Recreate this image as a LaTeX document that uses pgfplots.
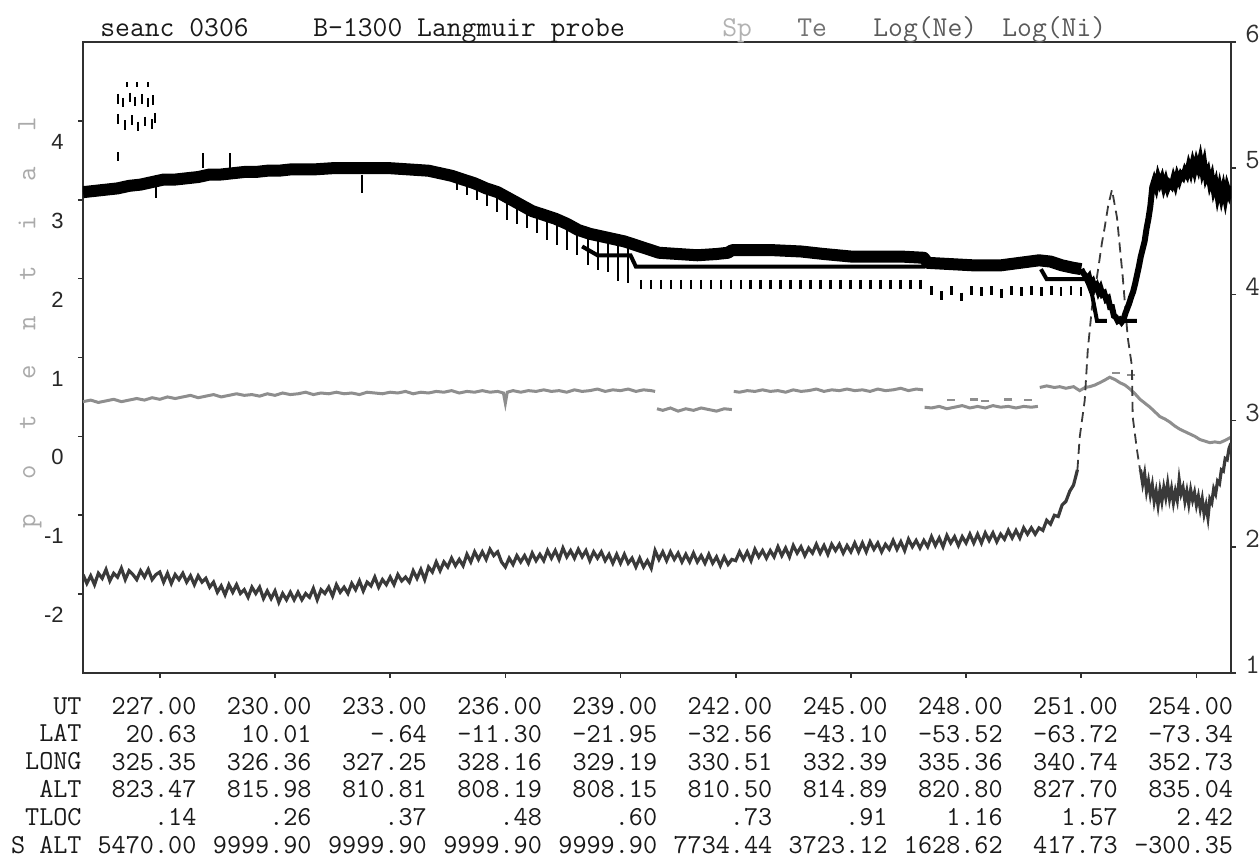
\documentclass[border=0pt]{standalone}
\usepackage{fontspec}
\setmainfont{Liberation Sans}
\newfontfamily\lsans{Liberation Sans}
\usepackage{pgfplots}
\pgfplotsset{compat=1.18}
\definecolor{spgray}{HTML}{8E8E8E}
\definecolor{tegray}{HTML}{3A3A3A}
\definecolor{axgray}{HTML}{303030}
\definecolor{labgray}{HTML}{AAAAAA}
\newcommand\gp{\hspace{17.6pt}}
\begin{document}
\begin{tikzpicture}
\useasboundingbox (-41.5pt,-94pt) rectangle (588.5pt,336.5pt);
% ---------------- left axis : potential (Sp) ----------------
\begin{axis}[
  scale only axis, width=574pt, height=315.5pt,
  xmin=225, xmax=254.9, ymin=-3, ymax=5,
  axis line style={-, axgray, line width=1pt},
  xtick={227,230,233,236,239,242,245,248,251,254},
  xticklabels={
    {227.00\\20.63\\325.35\\823.47\\.14\\5470.00},
    {230.00\\10.01\\326.36\\815.98\\.26\\9999.90},
    {233.00\\-.64\\327.25\\810.81\\.37\\9999.90},
    {236.00\\-11.30\\328.16\\808.19\\.48\\9999.90},
    {239.00\\-21.95\\329.19\\808.15\\.60\\9999.90},
    {242.00\\-32.56\\330.51\\810.50\\.73\\7734.44},
    {245.00\\-43.10\\332.39\\814.89\\.91\\3723.12},
    {248.00\\-53.52\\335.36\\820.80\\1.16\\1628.62},
    {251.00\\-63.72\\340.74\\827.70\\1.57\\417.73},
    {254.00\\-73.34\\352.73\\835.04\\2.42\\-300.35}},
  extra x ticks={225},
  extra x tick labels={{UT\\LAT\\LONG\\ALT\\TLOC\\S ALT}},
  extra x tick style={major tick length=0pt, xticklabel style={xshift=-19pt, yshift=-2.5pt}},
  xtick pos=left, ytick pos=left,
  tick align=outside, major tick length=2.5pt,
  tick style={axgray, line width=0.8pt},
  ytick={-2,-1,0,1,2,3,4}, yticklabels={-2,-1,0,1,2,3,4},
  yticklabel style={font=\lsans\fontsize{11}{13}\selectfont, text=black!85, anchor=east, inner sep=0pt, xshift=-7pt, yshift=-10.5pt},
  xticklabel style={font=\ttfamily\fontsize{13.7}{13.9}\selectfont, text=black!90, align=right, anchor=north east, inner sep=0pt, xshift=18.5pt, yshift=-9.5pt},
  unbounded coords=jump,
]
\addplot[spgray, line width=1.5pt] coordinates {
(225.0,0.44)(225.2,0.46)(225.4,0.43)(225.6,0.45)(225.8,0.47)(226.0,0.44)(226.2,0.46)(226.4,0.48)(226.6,0.46)(226.8,0.49)
(227.0,0.47)(227.2,0.50)(227.4,0.48)(227.6,0.50)(227.8,0.52)(228.0,0.49)(228.2,0.51)(228.4,0.53)(228.6,0.50)(228.8,0.52)
(229.0,0.54)(229.2,0.52)(229.4,0.53)(229.6,0.51)(229.8,0.54)(230.0,0.52)(230.2,0.55)(230.4,0.53)(230.6,0.54)(230.8,0.56)
(231.0,0.53)(231.2,0.55)(231.4,0.54)(231.6,0.56)(231.8,0.54)(232.0,0.55)(232.2,0.53)(232.4,0.56)(232.6,0.55)(232.8,0.54)
(233.0,0.56)(233.2,0.55)(233.4,0.57)(233.6,0.54)(233.8,0.56)(234.0,0.55)(234.2,0.57)(234.4,0.56)(234.6,0.58)(234.8,0.55)
(235.0,0.57)(235.2,0.56)(235.4,0.58)(235.6,0.56)(235.8,0.57)(235.95,0.55)(236.0,0.42)(236.05,0.56)(236.2,0.58)(236.4,0.56)
(236.6,0.58)(236.8,0.57)(237.0,0.59)(237.2,0.57)(237.4,0.58)(237.6,0.56)(237.8,0.59)(238.0,0.57)(238.2,0.58)(238.4,0.60)
(238.6,0.57)(238.8,0.59)(239.0,0.58)(239.2,0.60)(239.4,0.57)(239.6,0.59)(239.8,0.58)(239.9,0.57)(239.9,nan)
(239.95,0.35)(240.1,0.33)(240.3,0.36)(240.5,0.32)(240.7,0.35)(240.9,0.33)(241.1,0.36)(241.3,0.34)(241.5,0.32)(241.7,0.35)(241.9,0.34)(241.9,nan)
(241.95,0.57)(242.1,0.56)(242.3,0.58)(242.5,0.57)(242.7,0.59)(242.9,0.57)(243.1,0.58)(243.3,0.56)(243.5,0.59)(243.7,0.57)
(243.9,0.58)(244.1,0.60)(244.3,0.57)(244.5,0.59)(244.7,0.58)(244.9,0.60)(245.1,0.58)(245.3,0.59)(245.5,0.57)(245.7,0.60)
(245.9,0.58)(246.1,0.59)(246.3,0.61)(246.5,0.58)(246.7,0.60)(246.88,0.59)(246.88,nan)
(246.92,0.37)(247.1,0.36)(247.3,0.38)(247.5,0.35)(247.7,0.37)(247.9,0.39)(248.1,0.36)(248.3,0.38)(248.5,0.36)(248.7,0.39)
(248.9,0.37)(249.1,0.38)(249.3,0.36)(249.5,0.38)(249.7,0.37)(249.87,0.38)(249.87,nan)
(249.92,0.62)(250.1,0.64)(250.3,0.62)(250.44,0.63)(250.6,0.61)(250.8,0.63)(250.96,0.58)(251.1,0.62)(251.22,0.63)(251.35,0.65)
(251.48,0.68)(251.6,0.71)(251.74,0.75)(251.88,0.72)(252.01,0.68)(252.14,0.65)(252.27,0.60)(252.4,0.54)(252.53,0.47)(252.66,0.42)
(252.79,0.37)(252.92,0.31)(253.05,0.25)(253.18,0.22)(253.31,0.18)(253.44,0.13)(253.57,0.09)(253.7,0.06)(253.83,0.03)(253.96,0.00)
(254.09,-0.04)(254.22,-0.06)(254.35,-0.08)(254.48,-0.07)(254.61,-0.08)(254.75,-0.05)(254.9,-0.01)
};
\addplot[spgray, only marks, mark=-, mark size=2pt, line width=1.2pt] coordinates {
(247.6,0.46)(248.2,0.47)(248.5,0.45)(249.1,0.47)(249.6,0.46)(251.9,0.80)(252.3,0.78)
};
\end{axis}
% ---------------- right axis : Te, Log(Ne), Log(Ni) ----------------
\begin{axis}[
  scale only axis, width=574pt, height=315.5pt,
  xmin=225, xmax=254.9, ymin=1, ymax=6,
  axis x line=none, axis y line*=right,
  axis line style={-, axgray, line width=1pt},
  ytick={1,2,3,4,5,6}, yticklabels={1,2,3,4,5,6},
  tick align=outside, major tick length=2.5pt,
  tick style={axgray, line width=0.8pt},
  yticklabel style={font=\ttfamily\fontsize{14}{16}\selectfont, text=axgray, anchor=west, inner sep=0pt, xshift=4.5pt, yshift=4pt},
  unbounded coords=jump,
]
% Te (dark gray)
\addplot[tegray, line width=1.6pt] coordinates {
(225.0,1.78)(225.1,1.71)(225.2,1.77)(225.3,1.70)(225.4,1.79)(225.5,1.75)(225.6,1.82)(225.7,1.73)(225.8,1.79)(225.9,1.76)
(226.0,1.83)(226.1,1.74)(226.2,1.81)(226.3,1.78)(226.4,1.74)(226.5,1.81)(226.6,1.76)(226.7,1.82)(226.8,1.74)(226.9,1.78)
(227.0,1.80)(227.1,1.72)(227.2,1.79)(227.3,1.71)(227.4,1.78)(227.5,1.74)(227.6,1.79)(227.7,1.72)(227.8,1.77)(227.9,1.70)
(228.0,1.77)(228.1,1.72)(228.2,1.75)(228.3,1.68)(228.4,1.72)(228.5,1.64)(228.6,1.69)(228.7,1.62)(228.8,1.70)(228.9,1.64)
(229.0,1.70)(229.1,1.63)(229.2,1.66)(229.3,1.60)(229.4,1.68)(229.5,1.63)(229.6,1.68)(229.7,1.59)(229.8,1.65)(229.9,1.59)
(230.0,1.65)(230.1,1.56)(230.2,1.63)(230.3,1.58)(230.4,1.64)(230.5,1.58)(230.6,1.64)(230.7,1.58)(230.8,1.63)(230.9,1.60)
(231.0,1.67)(231.1,1.58)(231.2,1.66)(231.3,1.63)(231.4,1.68)(231.5,1.61)(231.6,1.70)(231.7,1.64)(231.8,1.68)(231.9,1.63)
(232.0,1.71)(232.1,1.66)(232.2,1.73)(232.3,1.65)(232.4,1.72)(232.5,1.69)(232.6,1.76)(232.7,1.68)(232.8,1.74)(232.9,1.70)
(233.0,1.76)(233.1,1.70)(233.2,1.78)(233.3,1.73)(233.4,1.76)(233.5,1.72)(233.6,1.81)(233.7,1.75)(233.8,1.82)(233.9,1.74)
(234.0,1.84)(234.1,1.80)(234.2,1.88)(234.3,1.81)(234.4,1.88)(234.5,1.84)(234.6,1.91)(234.7,1.85)(234.8,1.90)(234.9,1.85)
(235.0,1.94)(235.1,1.88)(235.2,1.96)(235.3,1.90)(235.4,1.96)(235.5,1.90)(235.6,1.98)(235.7,1.93)(235.8,1.96)(235.9,1.88)
(236.0,1.84)(236.1,1.91)(236.2,1.86)(236.3,1.93)(236.4,1.88)(236.5,1.93)(236.6,1.87)(236.7,1.95)(236.8,1.89)(236.9,1.94)
(237.0,1.89)(237.1,1.97)(237.2,1.91)(237.3,1.97)(237.4,1.90)(237.5,1.99)(237.6,1.92)(237.7,1.97)(237.8,1.91)(237.9,1.98)
(238.0,1.92)(238.1,1.97)(238.2,1.89)(238.3,1.96)(238.4,1.91)(238.5,1.96)(238.6,1.89)(238.7,1.94)(238.8,1.87)(238.9,1.94)
(239.0,1.87)(239.1,1.94)(239.2,1.87)(239.3,1.91)(239.4,1.84)(239.5,1.91)(239.6,1.84)(239.7,1.89)(239.8,1.83)(239.9,1.97)
(240.0,1.90)(240.1,1.96)(240.2,1.89)(240.3,1.96)(240.4,1.90)(240.5,1.95)(240.6,1.88)(240.7,1.94)(240.8,1.88)(240.9,1.95)
(241.0,1.88)(241.1,1.93)(241.2,1.87)(241.3,1.94)(241.4,1.87)(241.5,1.92)(241.6,1.85)(241.7,1.92)(241.8,1.86)(241.9,1.90)
(242.0,1.89)(242.1,1.96)(242.2,1.90)(242.3,1.96)(242.4,1.89)(242.5,1.98)(242.6,1.92)(242.7,1.97)(242.8,1.91)(242.9,1.97)
(243.0,1.92)(243.1,2.00)(243.2,1.93)(243.3,1.99)(243.4,1.92)(243.5,2.01)(243.6,1.95)(243.7,2.00)(243.8,1.93)(243.9,1.99)
(244.0,1.95)(244.1,2.02)(244.2,1.95)(244.3,2.01)(244.4,1.94)(244.5,2.02)(244.6,1.97)(244.7,2.02)(244.8,1.95)(244.9,2.01)
(245.0,1.96)(245.1,2.03)(245.2,1.96)(245.3,2.03)(245.4,1.96)(245.5,2.04)(245.6,1.98)(245.7,2.03)(245.8,1.96)(245.9,2.02)
(246.0,1.98)(246.1,2.05)(246.2,1.98)(246.3,2.04)(246.4,1.97)(246.5,2.06)(246.6,2.00)(246.7,2.05)(246.8,1.99)(246.9,2.05)
(247.0,2.00)(247.1,2.08)(247.2,2.01)(247.3,2.07)(247.4,2.00)(247.5,2.09)(247.6,2.03)(247.7,2.08)(247.8,2.01)(247.9,2.08)
(248.0,2.03)(248.1,2.10)(248.2,2.03)(248.3,2.10)(248.4,2.03)(248.5,2.11)(248.6,2.05)(248.7,2.11)(248.8,2.04)(248.9,2.10)
(249.0,2.06)(249.1,2.13)(249.2,2.07)(249.3,2.13)(249.4,2.07)(249.5,2.15)(249.6,2.10)(249.7,2.15)(249.8,2.10)(249.9,2.15)
(250.0,2.13)(250.1,2.21)(250.2,2.18)(250.3,2.25)(250.4,2.24)(250.5,2.33)(250.6,2.36)(250.7,2.44)(250.8,2.49)(250.9,2.61)
};
\addplot[tegray, line width=0.9pt, dash pattern=on 5pt off 3pt] coordinates {
(250.9,2.61)(250.96,2.87)(251.09,3.16)(251.17,3.56)(251.28,3.90)(251.41,4.14)(251.54,4.41)(251.61,4.53)(251.70,4.70)(251.80,4.83)
(251.93,4.61)(252.08,4.14)(252.21,3.66)(252.32,3.43)(252.34,3.03)(252.45,2.77)(252.53,2.61)
};
\addplot[tegray, line width=1.6pt] coordinates {
(252.53,2.61)(252.55,2.60)(252.60,2.50)(252.65,2.58)(252.70,2.44)(252.75,2.52)(252.80,2.41)(252.85,2.49)(252.90,2.36)(252.95,2.44)
(253.00,2.33)(253.05,2.45)(253.10,2.36)(253.15,2.47)(253.20,2.39)(253.25,2.50)(253.30,2.38)(253.35,2.46)(253.40,2.35)(253.45,2.44)
(253.50,2.37)(253.55,2.53)(253.60,2.42)(253.65,2.47)(253.70,2.36)(253.75,2.44)(253.80,2.34)(253.85,2.45)(253.90,2.37)(253.95,2.43)
(254.00,2.33)(254.05,2.40)(254.10,2.30)(254.15,2.38)(254.20,2.26)(254.25,2.33)(254.30,2.23)(254.35,2.38)(254.40,2.35)(254.45,2.46)
(254.50,2.42)(254.55,2.52)(254.60,2.50)(254.65,2.61)(254.70,2.60)(254.75,2.70)(254.80,2.69)(254.85,2.78)(254.90,2.82)
};
% Log(Ne) main band
\addplot[black, line width=6pt, line join=round] coordinates {
(225.0,4.81)(225.3,4.82)(225.6,4.83)(225.9,4.84)(226.2,4.86)(226.5,4.87)(226.8,4.89)(227.1,4.91)(227.4,4.91)(227.7,4.92)
(228.0,4.93)(228.3,4.95)(228.6,4.95)(228.9,4.96)(229.2,4.97)(229.5,4.97)(229.8,4.98)(230.1,4.98)(230.4,4.99)(230.7,4.99)
(231.0,4.99)(231.5,5.00)(232.0,5.00)(232.5,5.00)(233.0,5.00)(233.5,4.99)(234.0,4.98)(234.3,4.96)(234.6,4.94)(234.9,4.91)
(235.2,4.88)(235.5,4.84)(235.8,4.81)(236.1,4.76)(236.4,4.71)(236.7,4.66)(237.0,4.63)(237.3,4.60)(237.6,4.56)(237.9,4.51)
(238.2,4.48)(238.5,4.46)(238.8,4.44)(239.1,4.42)(239.4,4.39)(239.7,4.36)(240.0,4.33)(240.5,4.32)(241.0,4.31)(241.5,4.32)
(241.8,4.33)(241.9,4.35)(242.4,4.35)(243.0,4.35)(243.7,4.34)(244.3,4.32)(245.0,4.30)(245.6,4.30)(246.3,4.30)(246.9,4.29)
(247.0,4.25)(247.6,4.24)(248.2,4.23)(248.9,4.23)(249.4,4.25)(249.9,4.27)(250.2,4.26)(250.5,4.23)(250.8,4.21)(251.0,4.20)
};
% Log(Ne) right part
\addplot[black, line width=3pt] coordinates {
(251.00,4.20)(251.05,4.17)(251.10,4.15)(251.15,4.12)(251.20,4.14)(251.25,4.08)(251.30,4.10)(251.35,4.05)(251.40,4.07)(251.45,4.02)
(251.50,4.05)(251.55,4.00)(251.60,4.01)(251.65,3.96)(251.70,3.97)(251.75,3.90)(251.80,3.90)(251.85,3.83)(251.90,3.82)(251.95,3.79)
(252.00,3.80)(252.05,3.78)(252.10,3.80)(252.15,3.85)(252.20,3.89)(252.25,3.93)(252.30,3.98)(252.35,4.02)(252.40,4.08)(252.45,4.15)
(252.50,4.22)(252.55,4.30)(252.60,4.36)(252.65,4.42)(252.70,4.52)(252.75,4.60)(252.80,4.70)(252.85,4.85)(252.90,4.90)(252.95,4.85)
(253.00,4.93)(253.05,4.88)(253.10,4.92)(253.15,4.85)(253.20,4.90)(253.25,4.84)(253.30,4.88)(253.35,4.86)(253.40,4.92)(253.45,4.87)
(253.50,4.94)(253.55,4.90)(253.60,4.95)(253.65,4.93)(253.70,4.98)(253.75,4.95)(253.80,5.02)(253.85,4.97)(253.90,5.04)(253.95,4.98)
(254.00,5.05)(254.05,5.00)(254.10,5.07)(254.15,4.98)(254.20,5.04)(254.25,4.93)(254.30,4.97)(254.35,4.88)(254.40,4.93)(254.45,4.83)
(254.50,4.88)(254.55,4.78)(254.60,4.85)(254.65,4.77)(254.70,4.84)(254.75,4.76)(254.80,4.85)(254.85,4.80)(254.90,4.86)
};
% Log(Ni) line
\addplot[black, line width=2pt] coordinates {
(238.0,4.38)(238.4,4.31)(239.26,4.31)(239.4,4.22)(246.93,4.22)(246.93,nan)
(249.95,4.20)(250.1,4.12)(251.13,4.12)(251.28,4.00)(251.41,3.79)(251.67,3.79)(251.67,nan)
(252.14,3.79)(252.45,3.79)
};
% Log(Ni) dashes
\addplot[black, only marks, mark=|, mark size=2.2pt, line width=1.2pt] coordinates {
(239.53,4.08)(239.79,4.08)(240.05,4.08)(240.31,4.08)(240.57,4.08)(240.83,4.08)(241.09,4.08)(241.35,4.08)(241.61,4.08)(241.87,4.08)
(242.13,4.08)(242.39,4.08)(242.65,4.08)(242.91,4.08)(243.17,4.08)(243.43,4.08)(243.69,4.08)(243.95,4.08)(244.21,4.08)(244.47,4.08)
(244.73,4.08)(244.99,4.08)(245.25,4.08)(245.51,4.08)(245.77,4.08)(246.03,4.08)(246.29,4.08)(246.55,4.08)(246.81,4.08)
(247.10,4.03)(247.36,3.99)(247.62,4.03)(247.88,3.98)(248.14,4.03)(248.40,4.02)(248.66,4.03)(248.92,4.01)(249.18,4.03)(249.44,4.02)
(249.70,4.03)(249.96,4.02)(250.22,4.03)(250.48,4.02)(250.74,4.03)(251.00,4.02)
};
% Log(Ni) spikes below the falling band and small outliers
\addplot[black, line width=1.2pt] coordinates {
(234.74,4.93)(234.74,4.83)(234.74,nan)(235.00,4.90)(235.00,4.79)(235.00,nan)(235.26,4.87)(235.26,4.75)(235.26,nan)
(235.52,4.84)(235.52,4.70)(235.52,nan)(235.78,4.81)(235.78,4.65)(235.78,nan)(236.04,4.77)(236.04,4.59)(236.04,nan)
(236.30,4.72)(236.30,4.56)(236.30,nan)(236.56,4.68)(236.56,4.53)(236.56,nan)(236.82,4.65)(236.82,4.49)(236.82,nan)
(237.08,4.62)(237.08,4.43)(237.08,nan)(237.34,4.59)(237.34,4.39)(237.34,nan)(237.60,4.56)(237.60,4.35)(237.60,nan)
(237.86,4.51)(237.86,4.31)(237.86,nan)(238.15,4.48)(238.15,4.23)(238.15,nan)(238.41,4.46)(238.41,4.19)(238.41,nan)
(238.67,4.45)(238.67,4.18)(238.67,nan)(238.93,4.43)(238.93,4.11)(238.93,nan)(239.19,4.41)(239.19,4.09)(239.19,nan)
(225.91,5.06)(225.91,5.13)(225.91,nan)(228.13,5.00)(228.13,5.12)(228.13,nan)(228.83,5.00)(228.83,5.12)(228.83,nan)
(232.27,4.95)(232.27,4.80)(232.27,nan)(226.9,4.85)(226.9,4.76)
};
% cluster of marks at upper left
\addplot[black, only marks, mark=|, mark size=1.2pt, line width=1.1pt] coordinates {
(226.15,5.66)(226.41,5.66)(226.69,5.66)
};
\addplot[black, only marks, mark=|, mark size=2.4pt, line width=1.1pt] coordinates {
(225.91,5.55)(226.04,5.52)(226.22,5.56)(226.35,5.53)(226.54,5.55)(226.69,5.52)(226.82,5.54)
(225.91,5.39)(226.09,5.34)(226.28,5.38)(226.43,5.33)(226.61,5.37)(226.80,5.35)(226.88,5.40)
};
\end{axis}
% ---------------- titles and axis label ----------------
\begin{scope}[every node/.style={inner sep=0pt, anchor=base west, font=\ttfamily\fontsize{14.4}{16}\selectfont}]
\node[text=black!90] at (8.5pt,318pt) {seanc 0306};
\node[text=black!90] at (115pt,318pt) {B-1300 Langmuir probe};
\node[text=black!30] at (319.5pt,318pt) {Sp};
\node[text=black!55] at (357pt,318pt) {Te};
\node[text=black!65] at (395pt,318pt) {Log(Ne)};
\node[text=black!65] at (459.5pt,318pt) {Log(Ni)};
\end{scope}
\node[rotate=90, inner sep=0pt, text=labgray, font=\ttfamily\fontsize{14}{16}\selectfont] at (-26.5pt,175pt) {p\gp o\gp t\gp e\gp n\gp t\gp i\gp a\gp l};
\end{tikzpicture}
\end{document}
